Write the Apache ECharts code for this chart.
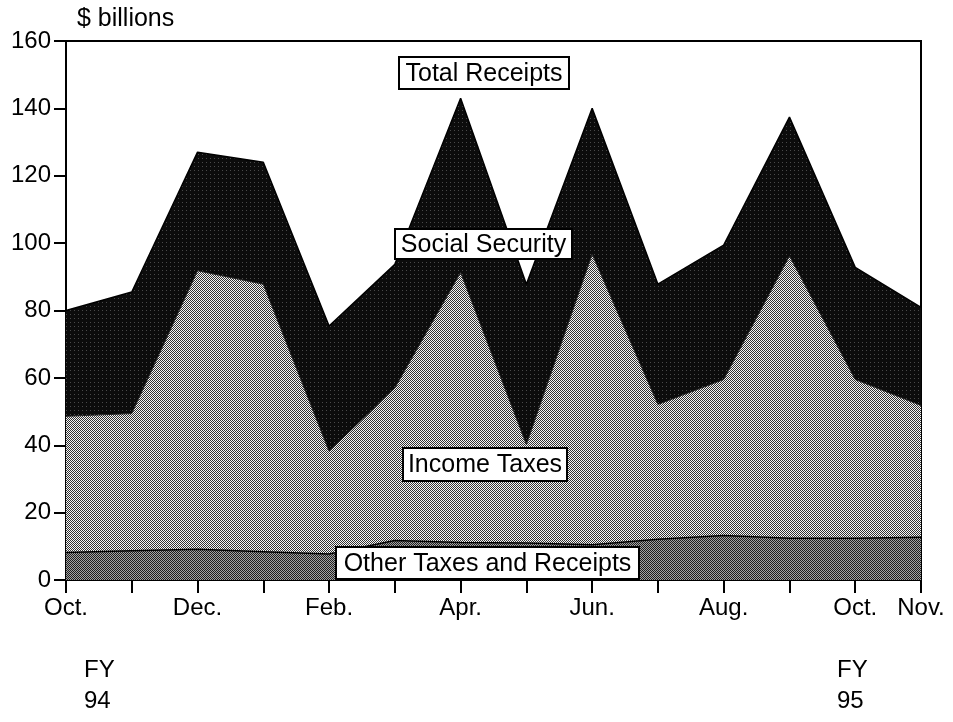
<!DOCTYPE html>
<html>
<head>
<meta charset="utf-8">
<script src="https://cdn.jsdelivr.net/npm/echarts@6/dist/echarts.min.js"></script>
<style>html,body{margin:0;padding:0;background:#fff}#c{width:953px;height:722px}</style>
</head>
<body>
<div id="c"></div>
<script>
// Months from Oct. FY94 to Nov. FY95
var months = ['Oct.','Nov.','Dec.','Jan.','Feb.','Mar.','Apr.','May','Jun.','Jul.','Aug.','Sep.','Oct.','Nov.'];
var shownLabels = [0,2,4,6,8,10,12,13];
// $ billions
var otherTaxes    = [8.2, 8.7, 9.1, 8.4, 7.7, 11.7, 11.1, 11.0, 10.5, 12.1, 13.2, 12.4, 12.4, 12.7];
var incomeTaxes   = [40.4, 40.7, 82.7, 79.4, 30.5, 45.3, 80.2, 29.2, 86.2, 40.0, 46.3, 83.8, 47.1, 39.1];
var socialSecurity= [31.4, 36.1, 35.2, 36.2, 37.2, 36.7, 51.7, 47.6, 43.3, 35.7, 39.9, 41.2, 33.3, 29.1];
var yTicks = [0, 20, 40, 60, 80, 100, 120, 140, 160];

function pattern(cells, size) {
  var c = document.createElement('canvas');
  c.width = size; c.height = size;
  var ctx = c.getContext('2d');
  for (var i = 0; i < cells.length; i++) {
    ctx.fillStyle = cells[i];
    ctx.fillRect(i % size, Math.floor(i / size), 1, 1);
  }
  return {image: c, repeat: 'repeat'};
}
var incomePat = pattern(['#333','#f6f6f6','#f6f6f6','#333'], 2);
var otherPat  = pattern(['#1e1e1e','#a4a4a4','#a4a4a4','#1e1e1e'], 2);
var socialPat = pattern(['#0c0c0c','#0c0c0c','#0c0c0c','#0c0c0c',
                         '#0c0c0c','#0c0c0c','#0c0c0c','#0c0c0c',
                         '#0c0c0c','#0c0c0c','#4a4a4a','#0c0c0c',
                         '#0c0c0c','#0c0c0c','#0c0c0c','#0c0c0c'], 4);

var font = '"Liberation Sans", Arial, Helvetica, sans-serif';

function box(text, x, y, w, h) {
  return [
    {type: 'rect', z: 100, zlevel: 1, shape: {x: x, y: y, width: w, height: h},
     style: {fill: '#fff', stroke: '#000', lineWidth: 2}},
    {type: 'text', z: 101, zlevel: 1, x: x + w / 2, y: y + h / 2 + 1,
     style: {text: text, fill: '#000', font: '25px ' + font, align: 'center', verticalAlign: 'middle'}}
  ];
}

var chart = echarts.init(document.getElementById('c'), null, {renderer: 'canvas'});
chart.setOption({
  animation: false,
  backgroundColor: '#fff',
  grid: {left: 66, right: 32, top: 41, bottom: 142, show: true, borderColor: '#000', borderWidth: 2, backgroundColor: 'transparent'},
  xAxis: {
    type: 'category', boundaryGap: false,
    data: months.map(function (m, i) { return i; }),
    axisLine: {lineStyle: {color: '#000', width: 2}},
    axisTick: {show: true, interval: 0, length: 13, lineStyle: {color: '#000', width: 2}},
    axisLabel: {
      interval: 0, margin: 16, color: '#000', fontSize: 24, fontFamily: font,
      formatter: function (v, i) { return shownLabels.indexOf(i) >= 0 ? months[i] : ''; }
    },
    splitLine: {show: false}
  },
  yAxis: {
    type: 'value', min: yTicks[0], max: yTicks[yTicks.length - 1], interval: 20,
    axisLine: {show: true, lineStyle: {color: '#000', width: 2}},
    axisTick: {show: true, length: 12, lineStyle: {color: '#000', width: 2}},
    axisLabel: {margin: 15, color: '#000', fontSize: 24, fontFamily: font},
    splitLine: {show: false}
  },
  series: [
    {name: 'Other Taxes and Receipts', type: 'line', stack: 'total', data: otherTaxes,
     showSymbol: false, lineStyle: {color: '#000', width: 1.5}, areaStyle: {color: otherPat, opacity: 1}},
    {name: 'Income Taxes', type: 'line', stack: 'total', data: incomeTaxes,
     showSymbol: false, lineStyle: {color: '#222', width: 1}, areaStyle: {color: incomePat, opacity: 1}},
    {name: 'Social Security', type: 'line', stack: 'total', data: socialSecurity,
     showSymbol: false, lineStyle: {color: '#000', width: 1.5}, areaStyle: {color: socialPat, opacity: 1}}
  ],
  graphic: [
    {type: 'text', x: 77, y: 7, style: {text: '$ billions', fill: '#000', font: '25px ' + font}}
  ].concat(
    box('Total Receipts', 399, 57, 170, 32),
    box('Social Security', 395, 229, 177, 30),
    box('Income Taxes', 403, 448, 164, 33),
    box('Other Taxes and Receipts', 336, 547, 303, 32),
    [
      {type: 'text', x: 84, y: 655, style: {text: 'FY\n94', fill: '#000', font: '24px ' + font, lineHeight: 31}},
      {type: 'text', x: 837, y: 655, style: {text: 'FY\n95', fill: '#000', font: '24px ' + font, lineHeight: 31}}
    ]
  )
});
</script>
</body>
</html>
